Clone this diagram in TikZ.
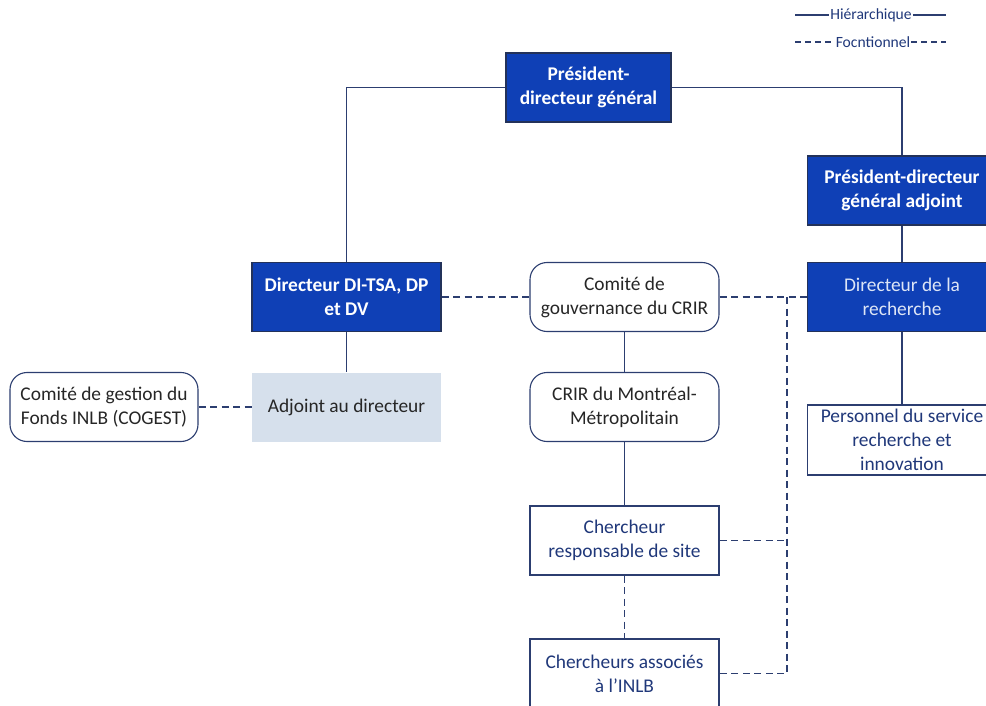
\documentclass[tikz,border=0pt]{standalone}
\usepackage{fontspec}
\setmainfont{Carlito}
\usetikzlibrary{positioning,calc}
\definecolor{inkblue}{RGB}{15,64,182}
\definecolor{inkline}{RGB}{44,62,112}
\definecolor{inknavy}{RGB}{32,56,122}
\definecolor{inkgrey}{RGB}{38,38,38}
\definecolor{paleblue}{RGB}{214,224,236}
\definecolor{palewhite}{RGB}{222,230,246}

\tikzset{
  unit/.style={minimum width=189pt,minimum height=69pt,inner sep=2pt,
    align=center,font=\fontsize{19.4}{24}\selectfont},
  bluebox/.style={unit,fill=inkblue,draw=inkline!80!black,line width=1.2pt,
    text=white,font=\fontsize{19.4}{24}\selectfont\bfseries},
  whitebox/.style={unit,fill=white,draw=inkline,line width=1.1pt,text=inknavy},
  roundbox/.style={unit,fill=white,draw=inkline,line width=1.1pt,
    rounded corners=17pt,text=inkgrey},
  hier/.style={draw=inkline,line width=1.1pt},
  func/.style={draw=inkline,line width=1.1pt,dash pattern=on 7pt off 4.5pt},
  legend/.style={inner sep=1pt,text=inknavy,font=\fontsize{15.6}{18}\selectfont}
}

\begin{document}
\begin{tikzpicture}[x=1pt,y=-1pt]
  \useasboundingbox (0,0) rectangle (986,706);
  \clip (0,0) rectangle (986,706);

  % top of the chart
  \node[bluebox,minimum width=165pt] (pdg) at (588.5,87.5)
    {Président-\\directeur général};
  \node[bluebox] (pdga) at (902,190.5)
    {Président-directeur\\général adjoint};

  % second level
  \node[bluebox] (dir) at (346.5,297) {Directeur DI-TSA, DP\\et DV};
  \node[roundbox] (gouv) at (624.5,297) {Comité de\\gouvernance du CRIR};
  \node[bluebox,font=\fontsize{19.4}{24}\selectfont,text=palewhite]
    (dirrech) at (902,297) {Directeur de la\\recherche};

  % third level
  \node[roundbox,minimum width=188pt] (cogest) at (104,407)
    {Comité de gestion du\\Fonds INLB (COGEST)};
  \node[unit,fill=paleblue,text=inkgrey] (adj) at (346.5,407)
    {Adjoint au directeur};
  \node[roundbox] (crir) at (624.5,407) {CRIR du Montréal-\\Métropolitain};
  \node[whitebox,minimum height=70pt] (pers) at (902,440)
    {Personnel du service\\recherche et\\innovation};

  % researchers
  \node[whitebox] (resp) at (624.5,540.5) {Chercheur\\responsable de site};
  \node[whitebox] (assoc) at (624.5,673.5) {Chercheurs associés\\à l’INLB};

  % hierarchical links
  \draw[hier] (pdg.west) -| (dir.north);
  \draw[hier] (pdg.east) -| (pdga.north);
  \draw[hier] (pdga) -- (dirrech);
  \draw[hier] (dirrech.south) -- (pers.north);
  \draw[hier] (dir) -- (adj);
  \draw[hier] (gouv) -- (crir);
  \draw[hier] (crir) -- (resp);

  % functional links
  \coordinate (bus) at (787,297);
  \draw[func] (dir) -- (gouv);
  \draw[func] (gouv) -- (dirrech);
  \draw[func] (cogest) -- (adj);
  \draw[func] (resp) -- (assoc);
  \draw[func] (bus) |- (assoc.east);
  \draw[func] (resp.east) -- (resp.east -| bus);

  % legend
  \node[legend] (lhier) at (871,15) {Hiérarchique};
  \node[legend] (lfunc) at (873,42) {Focntionnel};
  \coordinate (lh1) at (795,15);
  \coordinate (lh2) at (946,15);
  \coordinate (lf1) at (795,42);
  \coordinate (lf2) at (946,42);
  \draw[hier] (lh1) -- (lhier.west);
  \draw[hier] (lhier.east) -- (lh2);
  \draw[func,dash pattern=on 6pt off 4pt] (lf1) -- (lfunc.west);
  \draw[func,dash pattern=on 6pt off 4pt] (lfunc.east) -- (lf2);
\end{tikzpicture}
\end{document}
